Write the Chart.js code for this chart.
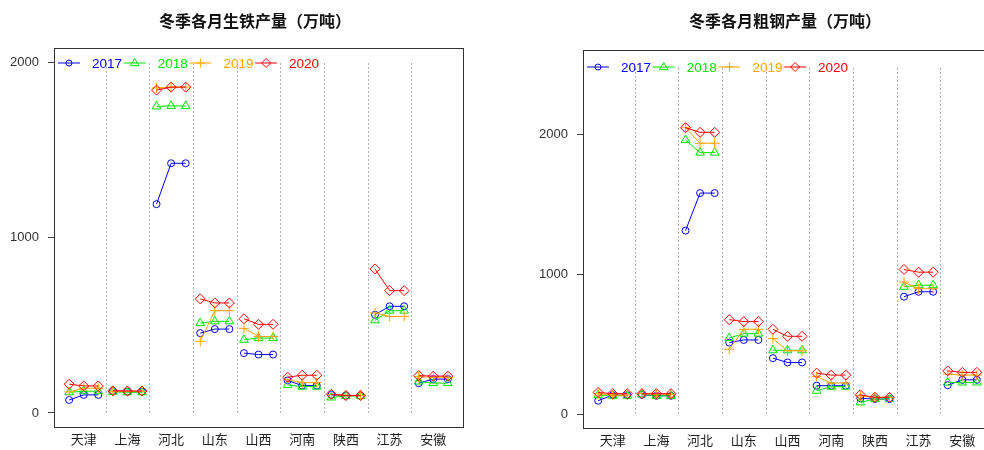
<!DOCTYPE html>
<html>
<head>
<meta charset="utf-8">
<script src="https://cdn.jsdelivr.net/npm/chart.js@4/dist/chart.umd.min.js"></script>
<style>
    html, body { margin: 0; padding: 0; background: #fff; overflow: hidden; width: 984px; height: 450px; }
    #ironChart { position: absolute; left: 0; top: 0; }
    #steelChart { position: absolute; left: 492px; top: 0; }
</style>
</head>
<body>
<canvas id="ironChart" width="492" height="450"></canvas>
<canvas id="steelChart" width="510" height="450"></canvas>
<script>
const provinces = ['天津', '上海', '河北', '山东', '山西', '河南', '陕西', '江苏', '安徽'];
const years = ['2017', '2018', '2019', '2020'];
const yTicks = [0, 1000, 2000];

// 生铁, three winter months per province
const iron2017 = [74, 103, 103, 125, 122, 122, 1190, 1423, 1423, 455, 478, 478, 341, 333, 333, 185, 156, 156, 103, 99, 99, 560, 608, 608, 170, 193, 193];
const iron2018 = [118, 124, 124, 120, 118, 118, 1747, 1750, 1750, 512, 522, 522, 417, 427, 427, 160, 150, 150, 88, 97, 97, 528, 583, 583, 179, 170, 170];
const iron2019 = [120, 141, 141, 124, 123, 123, 1852, 1857, 1857, 408, 583, 583, 482, 436, 436, 189, 173, 173, 105, 100, 100, 570, 550, 550, 207, 203, 203];
const iron2020 = [164, 154, 154, 126, 125, 125, 1840, 1857, 1857, 650, 627, 627, 537, 505, 505, 204, 215, 215, 107, 99, 99, 821, 697, 697, 213, 210, 210];

// 粗钢
const steel2017 = [95, 135, 135, 137, 130, 130, 1310, 1578, 1578, 510, 529, 529, 399, 368, 368, 202, 202, 202, 112, 107, 107, 838, 873, 873, 206, 244, 244];
const steel2018 = [135, 130, 130, 140, 130, 130, 1957, 1867, 1867, 543, 574, 574, 455, 455, 455, 166, 195, 195, 83, 107, 107, 909, 920, 920, 225, 225, 225];
const steel2019 = [145, 135, 135, 145, 140, 140, 2045, 1934, 1934, 463, 605, 605, 539, 451, 451, 268, 221, 221, 130, 119, 119, 942, 895, 895, 285, 278, 278];
const steel2020 = [154, 145, 145, 145, 145, 145, 2045, 2012, 2012, 674, 660, 660, 605, 555, 555, 292, 278, 278, 137, 119, 119, 1032, 1013, 1013, 308, 297, 297];

const colors = ['rgb(0,0,255)', 'rgb(0,230,0)', 'rgb(255,165,0)', 'rgb(255,0,0)'];
const pointStyles = ['circle', 'triangle', 'cross', 'rectRot'];
const pointRadius = [3.5, 5, 5, 5];


function drawSymbol(ctx, style, x, y, r) {
    ctx.beginPath();
    if (style === 'circle') {
        ctx.arc(x, y, r, 0, Math.PI * 2);
    } else if (style === 'triangle') {
        ctx.moveTo(x, y - r);
        ctx.lineTo(x + r * 0.95, y + r * 0.6);
        ctx.lineTo(x - r * 0.95, y + r * 0.6);
        ctx.closePath();
    } else if (style === 'cross') {
        ctx.moveTo(x - r, y); ctx.lineTo(x + r, y);
        ctx.moveTo(x, y - r); ctx.lineTo(x, y + r);
    } else {
        ctx.moveTo(x, y - r); ctx.lineTo(x + r, y);
        ctx.lineTo(x, y + r); ctx.lineTo(x - r, y);
        ctx.closePath();
    }
    ctx.stroke();
}


function makeDecor(title, titleX, dividerTop, legendOffset) {
    return {
        id: 'decor',
        afterDraw(chart) {
            const {ctx, chartArea, scales} = chart;
            ctx.save();

            // title
            ctx.fillStyle = '#111';
            ctx.font = "bold 16px 'Noto Sans CJK SC'";
            ctx.textAlign = 'center';
            ctx.textBaseline = 'middle';
            ctx.fillText(title, titleX, 21);

            // dotted group dividers
            ctx.strokeStyle = '#b0b0b0';
            ctx.lineWidth = 1;
            ctx.setLineDash([2, 2]);
            for (let i = 1; i < provinces.length; i++) {
                const x = Math.round(scales.x.getPixelForValue(3 * i - 0.5)) + 0.5;
                ctx.beginPath();
                ctx.moveTo(x, scales.y.getPixelForValue(0));
                ctx.lineTo(x, scales.y.getPixelForValue(dividerTop));
                ctx.stroke();
            }
            ctx.setLineDash([]);

            // box
            ctx.strokeStyle = '#333';
            ctx.strokeRect(chartArea.left + 0.5, chartArea.top + 0.5,
                chartArea.right - chartArea.left, chartArea.bottom - chartArea.top);

            // legend inside the box
            const ly = chartArea.top + legendOffset;
            ctx.font = "13.5px 'Liberation Sans', Arial";
            ctx.textAlign = 'left';
            years.forEach((yr, i) => {
                const x0 = chartArea.left + 4 + i * 65.7;
                ctx.strokeStyle = colors[i];
                ctx.fillStyle = colors[i];
                ctx.beginPath();
                ctx.moveTo(x0, ly);
                ctx.lineTo(x0 + 22, ly);
                ctx.stroke();
                drawSymbol(ctx, pointStyles[i], x0 + 11, ly, i === 0 ? 3 : 4.5);
                ctx.fillText(yr, x0 + 34, ly + 1);
            });

            ctx.restore();
        }
    };
}


function createChart(element, seriesList, opts) {
    const datasets = seriesList.map((values, i) => ({
        label: years[i],
        data: values.map((v, j) => ({x: j, y: v})),
        borderColor: colors[i],
        backgroundColor: 'transparent',
        borderWidth: 1,
        pointStyle: pointStyles[i],
        pointRadius: pointRadius[i],
        pointBorderWidth: 1,
        pointBorderColor: colors[i],
        pointBackgroundColor: 'transparent',
        order: 4 - i,
        segment: {
            borderColor: ctx => Math.floor(ctx.p0DataIndex / 3) !== Math.floor(ctx.p1DataIndex / 3)
                ? 'transparent' : colors[i],
        },
    }));

    return new Chart(element, {
        type: 'line',
        data: {datasets: datasets},
        options: {
            responsive: false,
            animation: false,
            layout: {padding: opts.padding},
            plugins: {
                legend: {display: false},
                tooltip: {enabled: false},
            },
            scales: {
                x: {
                    type: 'linear',
                    min: -1.04,
                    max: 27.04,
                    grid: {display: false},
                    border: {display: false},
                    afterBuildTicks(scale) {
                        scale.ticks = provinces.map((p, i) => ({value: 3 * i + 1}));
                    },
                    afterFit(scale) {
                        scale.height = opts.xHeight;
                    },
                    ticks: {
                        autoSkip: false,
                        maxRotation: 0,
                        padding: -4,
                        color: '#222',
                        font: {size: 13, family: "'Noto Sans CJK SC'"},
                        callback: value => provinces[Math.round((value - 1) / 3)],
                    },
                },
                y: {
                    min: opts.yMin,
                    max: opts.yMax,
                    grid: {
                        drawOnChartArea: false,
                        drawTicks: true,
                        tickLength: 6,
                        color: '#444',
                    },
                    border: {display: false},
                    afterBuildTicks(scale) {
                        scale.ticks = yTicks.map(v => ({value: v}));
                    },
                    afterFit(scale) {
                        scale.width = opts.yWidth;
                    },
                    ticks: {
                        padding: 9,
                        color: '#333',
                        font: {size: 13, family: "'Liberation Sans', Arial"},
                        callback: value => String(value),
                    },
                },
            },
        },
        plugins: [makeDecor(opts.title, opts.titleX, opts.dividerTop, opts.legendOffset)],
    });
}


const ironChart = createChart(document.getElementById('ironChart'),
    [iron2017, iron2018, iron2019, iron2020], {
        title: '冬季各月生铁产量（万吨）',
        titleX: 255,
        padding: {top: 48, right: 29, left: 0, bottom: 0},
        xHeight: 23,
        yWidth: 54,
        yMin: -80,
        yMax: 2080,
        dividerTop: 2000,
        legendOffset: 15,
    });

const steelChart = createChart(document.getElementById('steelChart'),
    [steel2017, steel2018, steel2019, steel2020], {
        title: '冬季各月粗钢产量（万吨）',
        titleX: 293,
        padding: {top: 50, right: 10, left: 0, bottom: 0},
        xHeight: 22,
        yWidth: 91,
        yMin: -100,
        yMax: 2600,
        dividerTop: 2480,
        legendOffset: 17,
    });
</script>
</body>
</html>
